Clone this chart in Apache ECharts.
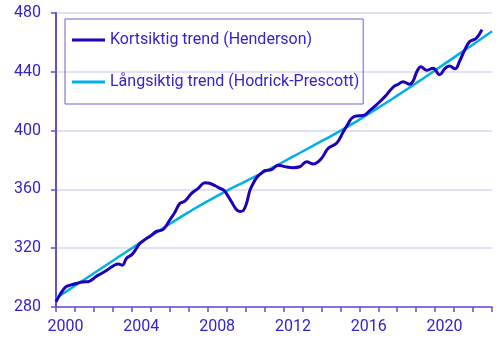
<!DOCTYPE html>
<html>
<head>
<meta charset="utf-8">
<script src="https://cdn.jsdelivr.net/npm/echarts@6/dist/echarts.min.js"></script>
<style>html,body{margin:0;padding:0;background:#fff}#c{width:500px;height:348px}</style>
</head>
<body>
<div id="c"></div>
<script>
// Year categories for the x axis (ticks every year, labels every 4th)
const years = ['2000','2001','2002','2003','2004','2005','2006','2007','2008','2009','2010','2011','2012','2013','2014','2015','2016','2017','2018','2019','2020','2021','2022'];
const yTicks = [280, 320, 360, 400, 440, 480];

// Kortsiktig trend (Henderson): [decimal year, value]
const hendersonT = [2000.0,2000.2,2000.5,2000.8,2001.1,2001.4,2001.7,2001.9,2002.1,2002.35,2002.7,2003.1,2003.3,2003.5,2003.72,2004.0,2004.2,2004.43,2004.7,2005.0,2005.3,2005.6,2005.8,2006.0,2006.25,2006.54,2006.8,2007.15,2007.5,2007.85,2008.1,2008.4,2008.65,2008.85,2009.0,2009.26,2009.5,2009.7,2009.87,2010.05,2010.22,2010.4,2010.6,2010.84,2011.0,2011.37,2011.72,2012.07,2012.5,2012.86,2013.22,2013.57,2014.0,2014.36,2014.8,2015.15,2015.4,2015.6,2015.85,2016.2,2016.55,2016.9,2017.35,2017.78,2018.05,2018.31,2018.66,2018.85,2019.05,2019.25,2019.54,2019.89,2020.24,2020.5,2020.75,2021.05,2021.3,2021.56,2021.82,2022.17,2022.47];
const hendersonV = [283.6,288.2,293.5,295,296.1,297,297.2,298.5,300.6,302.4,305.2,308.6,309.2,308.4,313.1,315.6,319,323.3,326,328.5,331.5,332.4,335,339.2,344,350.5,352,357.3,360.7,364.6,364.2,362.5,360.7,359.5,357,351.6,346.5,345,345.5,350.5,359,364,368.3,371,372.7,373.4,376.5,375.5,374.8,375.4,378.8,377.3,381,388,391.4,399,404.5,408.4,410,410.2,413.6,417.5,423.1,429.5,431.5,433.3,431.5,434,440.5,443.5,441,442.4,438,442,444,442,447.5,454.8,460.5,462.8,468.7];

// Långsiktig trend (Hodrick-Prescott): [decimal year, value]
const hpT = [2000,2001,2002,2003,2004,2005,2006,2007,2008,2009,2010,2011,2012,2013,2014,2015,2016,2017,2018,2019,2020,2021,2022,2023];
const hpV = [286,294.5,303,311.5,320,328.3,336.5,344.5,352,359,365.5,372,378.8,385.8,392.8,399.8,407.5,415.5,423.8,432.3,441,449.8,458.6,467.6];

const TXT = '#3323cc';
const AX = '#5e50d8';
const FONT = 'Roboto';
const C_H = '#1e00b8';
const C_HP = '#00b0e8';

const chart = echarts.init(document.getElementById('c'), null, {renderer: 'canvas'});
chart.setOption({
  animation: false,
  textStyle: {fontFamily: FONT},
  grid: {left: 56, right: 8, top: 13, bottom: 41, containLabel: false},
  legend: {
    left: 65, top: 19,
    orient: 'vertical',
    borderColor: '#6a5fd8', borderWidth: 1,
    padding: [11, 4, 12, 7],
    itemGap: 22, itemWidth: 33, itemHeight: 3, itemTextGap: 3,
    icon: 'rect',
    textStyle: {color: TXT, fontSize: 16, fontFamily: FONT, lineHeight: 20},
    data: ['Kortsiktig trend (Henderson)', 'Långsiktig trend (Hodrick-Prescott)']
  },
  xAxis: [
    {
      type: 'category', data: years, boundaryGap: true,
      axisLine: {lineStyle: {color: AX, width: 1.5}},
      axisTick: {show: true, interval: 0, length: 5, lineStyle: {color: AX, width: 1.5}},
      axisLabel: {interval: 3, color: TXT, fontSize: 16, fontFamily: FONT, margin: 12},
      splitLine: {show: false}
    },
    {
      type: 'value', min: 2000, max: 2023, show: false
    }
  ],
  yAxis: {
    type: 'value', min: yTicks[0], max: yTicks[yTicks.length - 1], interval: 40,
    axisLine: {show: true, lineStyle: {color: AX, width: 2}},
    axisTick: {show: true, length: 5, lineStyle: {color: AX, width: 1.5}},
    axisLabel: {color: TXT, fontSize: 16, fontFamily: FONT, margin: 15},
    splitLine: {lineStyle: {color: '#d9d7f3', width: 1.5}}
  },
  series: [
    {
      name: 'Långsiktig trend (Hodrick-Prescott)', type: 'line', xAxisIndex: 1,
      data: hpT.map((t, i) => [t, hpV[i]]),
      smooth: true, symbol: 'none',
      lineStyle: {color: C_HP, width: 2.5}, itemStyle: {color: C_HP}, z: 2
    },
    {
      name: 'Kortsiktig trend (Henderson)', type: 'line', xAxisIndex: 1,
      data: hendersonT.map((t, i) => [t, hendersonV[i]]),
      smooth: 0.4, symbol: 'none',
      lineStyle: {color: C_H, width: 3}, itemStyle: {color: C_H}, z: 3
    }
  ]
});
</script>
</body>
</html>
